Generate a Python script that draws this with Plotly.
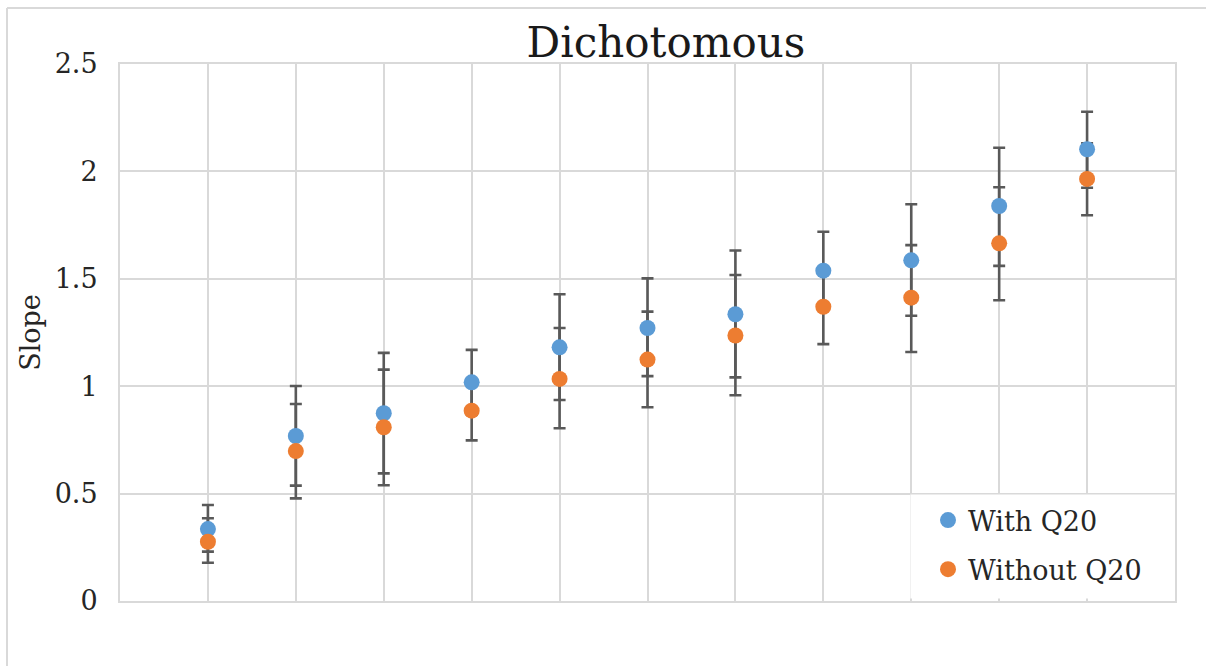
import plotly.graph_objects as go

# ---- data ----
x_pos = [1, 2, 3, 4, 5, 6, 7, 8, 9, 10, 11]

with_q20 = [0.335, 0.768, 0.874, 1.018, 1.181, 1.271, 1.335, 1.538, 1.586, 1.839, 2.103]
with_q20_hi = [0.447, 1.001, 1.155, 1.169, 1.428, 1.502, 1.632, 1.719, 1.847, 2.110, 2.278]
with_q20_lo = [0.230, 0.537, 0.594, 0.867, 0.936, 1.047, 1.041, 1.357, 1.328, 1.560, 1.924]

without_q20 = [0.276, 0.698, 0.809, 0.886, 1.034, 1.124, 1.236, 1.370, 1.412, 1.665, 1.965]
without_q20_hi = [0.385, 0.917, 1.077, 1.024, 1.271, 1.347, 1.518, 1.544, 1.657, 1.926, 2.131]
without_q20_lo = [0.178, 0.478, 0.539, 0.748, 0.804, 0.902, 0.958, 1.196, 1.159, 1.400, 1.796]

series = [
    ("With Q20", with_q20, with_q20_hi, with_q20_lo, "#5B9BD5"),
    ("Without Q20", without_q20, without_q20_hi, without_q20_lo, "#ED7D31"),
]

FONT = "DejaVu Serif"
GRID = "#D9D9D9"

fig = go.Figure()

# error bars first (below all markers)
for name, y, hi, lo, col in series:
    fig.add_trace(go.Scatter(
        x=x_pos, y=y, mode="markers",
        marker=dict(size=1, opacity=0),
        error_y=dict(type="data", symmetric=False,
                     array=[h - v for h, v in zip(hi, y)],
                     arrayminus=[v - l for l, v in zip(lo, y)],
                     color="#595959", thickness=2.6, width=6),
        showlegend=False, hoverinfo="skip",
    ))

# markers on top
for name, y, hi, lo, col in series:
    fig.add_trace(go.Scatter(
        x=x_pos, y=y, mode="markers", name=name, legendgroup=name,
        marker=dict(size=16, color=col),
    ))

# pixel helpers for paper coords (plot area 120..1175 x, 64..601 y)
L, R, T, B = 120, 1175, 64, 601
def px(p):
    return (p - L) / (R - L)
def py(p):
    return (B - p) / (B - T)

fig.update_layout(
    width=1206, height=666,
    margin=dict(l=L, r=1206 - R, t=T, b=666 - B),
    paper_bgcolor="white", plot_bgcolor="white",
    font=dict(family=FONT, color="#262626"),
    title=dict(text="Dichotomous", font=dict(family=FONT, size=42, color="#1a1a1a"),
               x=666 / 1206, xanchor="center", y=1 - 42 / 666, yanchor="middle"),
    xaxis=dict(range=[0, 12], dtick=1, tick0=0, showgrid=True, gridcolor=GRID, gridwidth=2,
               showticklabels=False, zeroline=False, showline=True, linecolor=GRID,
               linewidth=2, mirror=True, ticks=""),
    yaxis=dict(range=[0, 2.5], dtick=0.5, tick0=0, showgrid=True, gridcolor=GRID, gridwidth=2,
               zeroline=False, showline=True, linecolor=GRID, linewidth=2, mirror=True,
               ticks="", ticklabelstandoff=15,
               tickfont=dict(family=FONT, size=27, color="#262626"),
               tickvals=[0, 0.5, 1, 1.5, 2, 2.5], ticktext=["0", "0.5", "1", "1.5", "2", "2.5"],
               title=dict(text="Slope", font=dict(family=FONT, size=27, color="#262626"),
                          standoff=6)),
    legend=dict(x=px(928), xanchor="left", y=py(496), yanchor="top",
                bgcolor="rgba(0,0,0,0)", font=dict(family=FONT, size=27, color="#262626"),
                traceorder="grouped", tracegroupgap=11, itemsizing="trace"),
    shapes=[
        # white legend background covering the grid
        dict(type="rect", xref="x", yref="y", x0=8.99, x1=12, y0=0.012, y1=0.496,
             fillcolor="white", line=dict(width=0), layer="between"),
        # outer chart-area border (top and left)
        dict(type="line", xref="paper", yref="paper", x0=px(7), x1=px(1206),
             y0=py(8), y1=py(8), line=dict(color=GRID, width=2)),
        dict(type="line", xref="paper", yref="paper", x0=px(7), x1=px(7),
             y0=py(8), y1=py(666), line=dict(color=GRID, width=2)),
    ],
)

fig.write_html("out.html")
